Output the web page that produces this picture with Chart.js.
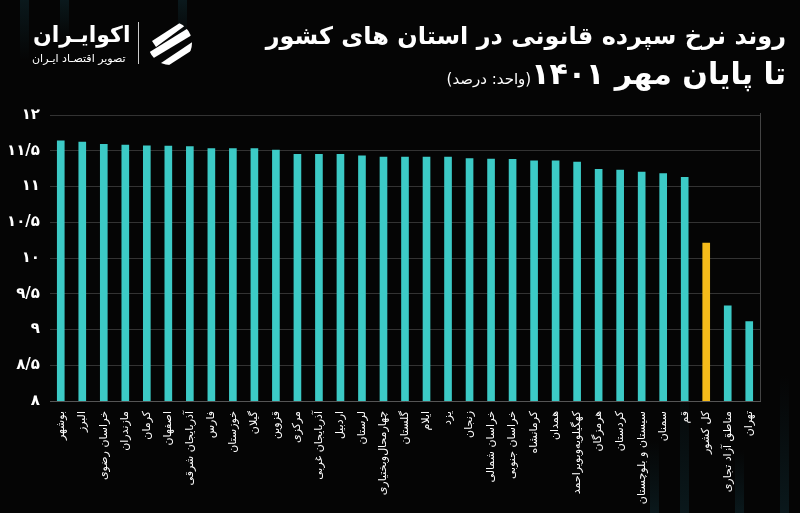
<!DOCTYPE html>
<html>
<head>
<meta charset="utf-8">
<script src="https://cdn.jsdelivr.net/npm/chart.js@4"></script>
<style>
  html, body { margin: 0; padding: 0; background: #050505; }
  #wrap { position: relative; width: 800px; height: 513px; overflow: hidden; background: #050505; }
  .stripe { position: absolute; width: 9px; background: linear-gradient(to bottom, rgba(20,60,70,0), rgba(20,60,70,0.35)); }
  .stripe.top { background: linear-gradient(to top, rgba(20,60,70,0), rgba(20,60,70,0.35)); }
  #chart { position: absolute; left: 0; top: 0; }
  .title { position: absolute; right: 14px; color: #fff; font-family: "DejaVu Sans", sans-serif; font-weight: bold; direction: rtl; white-space: nowrap; }
  #t1 { top: 22px; font-size: 24px; }
  #t2 { top: 56px; font-size: 30px; }
  #t2 span { font-size: 15px; font-weight: normal; }
  #logo { position: absolute; left: 28px; top: 18px; color: #fff; font-family: "DejaVu Sans", sans-serif; direction: rtl; }
  #logo .name { position: absolute; left: 5px; top: 4px; font-size: 22px; font-weight: bold; white-space: nowrap; }
  #logo .sub { position: absolute; left: 4px; top: 34px; font-size: 11px; white-space: nowrap; }
  #logo .sep { position: absolute; left: 110px; top: 4px; width: 1px; height: 42px; background: #ccc; }
  #logo svg { position: absolute; left: 118px; top: 1px; }
</style>
</head>
<body>
<div id="wrap">
  <div class="stripe top" style="left:20px;top:0;height:60px"></div>
  <div class="stripe top" style="left:60px;top:0;height:40px"></div>
  <div class="stripe top" style="left:178px;top:0;height:40px"></div>
  <div class="stripe" style="left:650px;top:440px;height:73px"></div>
  <div class="stripe" style="left:680px;top:370px;height:143px"></div>
  <div class="stripe" style="left:735px;top:450px;height:63px"></div>
  <div class="stripe" style="left:780px;top:375px;height:138px"></div>
  <canvas id="chart" width="800" height="513"></canvas>
  <div class="title" id="t1">روند نرخ سپرده قانونی در استان های کشور</div>
  <div class="title" id="t2">تا پایان مهر ۱۴۰۱<span>(واحد: درصد)</span></div>
  <div id="logo">
    <div class="name">اکوایـران</div>
    <div class="sub">تصویر اقتصـاد ایـران</div>
    <div class="sep"></div>
    <svg width="48" height="48" viewBox="0 0 48 48">
      <defs><clipPath id="c"><circle cx="24" cy="24" r="22"/></clipPath></defs>
      <g clip-path="url(#c)" fill="#fff">
        <polygon points="6,22 40,0 48,0 10,28"/>
        <polygon points="2,34 44,8 46,16 6,40"/>
        <polygon points="12,46 48,22 48,30 20,48"/>
      </g>
    </svg>
  </div>
</div>
<script>
const provinces = ['بوشهر', 'البرز', 'خراسان رضوی', 'مازندران', 'کرمان', 'اصفهان', 'آذربایجان شرقی', 'فارس', 'خوزستان', 'گیلان', 'قزوین', 'مرکزی', 'آذربایجان غربی', 'اردبیل', 'لرستان', 'چهارمحال‌وبختیاری', 'گلستان', 'ایلام', 'یزد', 'زنجان', 'خراسان شمالی', 'خراسان جنوبی', 'کرمانشاه', 'همدان', 'کهگیلویه‌وبویراحمد', 'هرمزگان', 'کردستان', 'سیستان و بلوچستان', 'سمنان', 'قم', 'کل کشور', 'مناطق آزاد تجاری', 'تهران'];
const rates = [11.64, 11.62, 11.59, 11.58, 11.57, 11.565, 11.56, 11.53, 11.53, 11.53, 11.51, 11.45, 11.45, 11.45, 11.43, 11.41, 11.41, 11.41, 11.41, 11.39, 11.385, 11.38, 11.36, 11.36, 11.34, 11.24, 11.23, 11.2, 11.18, 11.13, 10.21, 9.33, 9.11];
const highlight = 'کل کشور';

const faDigits = '۰۱۲۳۴۵۶۷۸۹';
function toFa(v) {
    return String(v).replace('.', '/').replace(/[0-9]/g, d => faDigits[d]);
}

const rightBorder = {
    id: 'rightBorder',
    afterDraw(chart) {
        const a = chart.chartArea, ctx = chart.ctx;
        ctx.save();
        ctx.strokeStyle = '#444';
        ctx.lineWidth = 1;
        ctx.beginPath();
        ctx.moveTo(a.right + 0.5, a.top - 2);
        ctx.lineTo(a.right + 0.5, a.bottom);
        ctx.stroke();
        ctx.restore();
    }
};

new Chart(document.getElementById('chart'), {
    type: 'bar',
    data: {
        labels: provinces,
        datasets: [{
            data: rates,
            backgroundColor: provinces.map(p => p === highlight ? '#f6bb1a' : '#3ccac6'),
            barThickness: 7
        }]
    },
    options: {
        responsive: false,
        animation: false,
        layout: { padding: { top: 115, right: 40, left: 0, bottom: 0 } },
        plugins: { legend: { display: false }, tooltip: { enabled: false } },
        scales: {
            x: {
                grid: { display: false },
                border: { color: '#555' },
                ticks: {
                    color: '#fff',
                    minRotation: 90,
                    maxRotation: 90,
                    autoSkip: false,
                    padding: 2,
                    font: { family: 'DejaVu Sans', size: 11 }
                },
                afterFit: s => { s.height = 112; }
            },
            y: {
                min: 8,
                max: 12,
                grid: { color: '#333', drawTicks: false },
                border: { display: false },
                ticks: {
                    stepSize: 0.5,
                    color: '#fff',
                    padding: 10,
                    font: { family: 'DejaVu Sans', size: 15, weight: 'bold' },
                    callback: v => toFa(v)
                },
                afterFit: s => { s.width = 50; }
            }
        }
    },
    plugins: [rightBorder]
});
</script>
</body>
</html>
